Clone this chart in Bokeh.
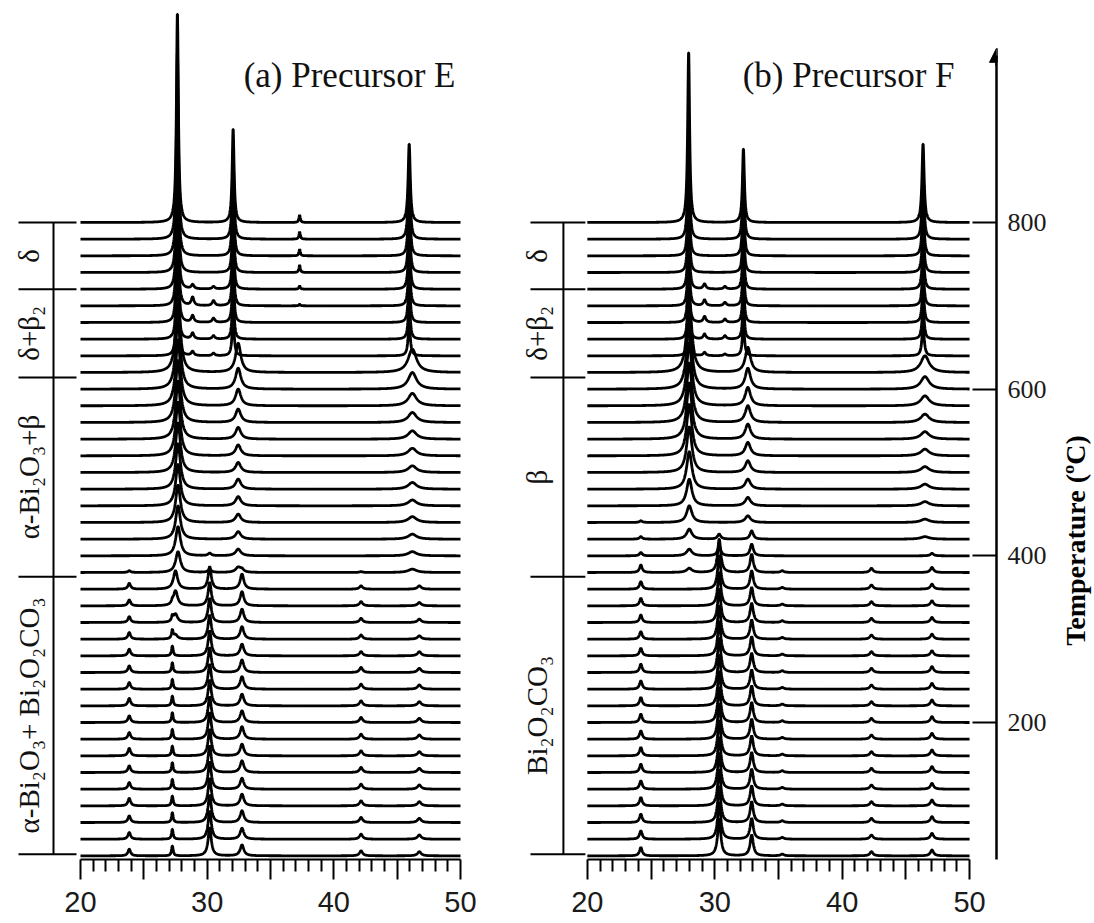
import math
import numpy as np
from bokeh.plotting import figure
from bokeh.layouts import row
from bokeh.models import FixedTicker, Label, Arrow, NormalHead
from bokeh.embed import file_html
from bokeh.resources import INLINE

# ---------------- data ----------------
TEMPS = [40, 60, 80, 100, 120, 140, 160, 180, 200, 220, 240, 260, 280, 300, 320,
         340, 360, 380, 400, 420, 440, 460, 480, 500, 520, 540, 560, 580, 600,
         620, 640, 660, 680, 700, 720, 740, 760, 780, 800]

X_MAJOR = [20, 25, 30, 35, 40, 45, 50]
X_BLANK = [25, 35, 45]
X_MINOR = [21, 22, 23, 24, 26, 27, 28, 29, 31, 32, 33, 34, 36, 37, 38, 39,
           41, 42, 43, 44, 46, 47, 48, 49]
Y_TICKS = [200, 400, 600, 800]
Y_LABEL = "Temperature (ºC)"

PHASE_BOUNDS = [42, 375, 614, 720, 800]
E_PHASES = ["α-Bi₂O₃+ Bi₂O₂CO₃", "α-Bi₂O₃+β", "δ+β₂", "δ"]
F_PHASES = ["Bi₂O₂CO₃", "β", "δ+β₂", "δ"]
TITLES = ["(a) Precursor E", "(b) Precursor F"]

# ---- Precursor E: peak heights (a.u.) per temperature ----
E_H_D276 = [0]*30 + [120, 130, 140, 150, 160, 180, 200, 225, 253]
E_H_D320 = [0]*30 + [50, 55, 60, 65, 70, 75, 85, 99, 113]
E_H_D460 = [0]*30 + [40, 45, 50, 55, 60, 65, 75, 85, 95]
E_H_D373 = [0]*33 + [2, 4, 9, 8, 9, 9]
E_H_B2_288 = [0]*30 + [5, 7, 8, 10, 5] + [0]*4
E_H_B2_305 = [0]*30 + [3, 4, 5, 6, 3] + [0]*4
E_H_B277 = [0]*17 + [25, 35, 40, 45, 50, 55, 60, 65, 70, 75, 80, 85, 90] + [0]*9
E_H_B324 = [0]*17 + [6, 8, 9, 10, 11, 12, 12, 13, 14, 16, 20, 25, 35] + [0]*9
E_H_B462 = [0]*17 + [4, 5, 6, 7, 7, 8, 8, 9, 10, 12, 15, 20, 28] + [0]*9
E_H_C302 = [34, 34, 33, 33, 33, 32, 32, 32, 31, 31, 30, 30, 30, 29, 29, 28, 27,
            4, 3] + [0]*20
E_H_C327 = [13, 13, 14, 14, 13, 14, 14, 15, 14, 14, 15, 15, 14, 15, 16, 17, 18,
            3] + [0]*21
E_H_C239 = [8, 8, 8, 9, 8, 8, 9, 8, 8, 9, 8, 8, 8, 8, 7, 7, 7, 2] + [0]*21
E_H_C422 = [6, 6, 6, 6, 6, 6, 6, 6, 6, 6, 6, 6, 5, 5, 5, 5, 4, 1] + [0]*21
E_H_C468 = [5, 5, 5, 5, 5, 5, 5, 5, 5, 5, 5, 5, 5, 4, 4, 4, 4] + [0]*22
E_H_A272 = [12, 12, 12, 12, 12, 12, 12, 12, 12, 12, 12, 12, 12, 10, 6, 3] + [0]*23
E_H_A275 = [0]*13 + [5, 10, 18, 22] + [0]*22

E_POS = [27.65, 32.05, 45.95, 37.3, 28.85, 30.5, 27.7, 32.45, 46.2,
         30.2, 32.75, 23.85, 42.15, 46.75, 27.25, 27.5]
E_FWHM = [0.18, 0.18, 0.2, 0.12, 0.25, 0.25, 0.45, 0.5, 0.8,
          0.3, 0.35, 0.25, 0.3, 0.35, 0.15, 0.4]
E_HEIGHTS = [E_H_D276, E_H_D320, E_H_D460, E_H_D373, E_H_B2_288, E_H_B2_305,
             E_H_B277, E_H_B324, E_H_B462, E_H_C302, E_H_C327, E_H_C239,
             E_H_C422, E_H_C468, E_H_A272, E_H_A275]

# ---- Precursor F ----
F_H_D279 = [0]*30 + [60, 65, 70, 75, 80, 85, 95, 125, 206]
F_H_D322 = [0]*30 + [42, 45, 48, 50, 55, 60, 70, 80, 89]
F_H_D463 = [0]*30 + [38, 40, 42, 45, 50, 55, 60, 73, 95]
F_H_B2_292 = [0]*30 + [4, 6, 7, 7, 6] + [0]*4
F_H_B2_308 = [0]*30 + [2, 4, 4, 4, 3] + [0]*4
F_H_B280 = [0]*17 + [5, 8, 12, 20, 32, 45, 55, 62, 68, 72, 76, 80, 85] + [0]*9
F_H_B326 = [0]*20 + [8, 10, 12, 14, 16, 18, 20, 22, 25, 30] + [0]*9
F_H_B465 = [0]*19 + [3, 4, 5, 6, 7, 8, 9, 10, 12, 15, 20] + [0]*9
F_H_C303 = [44, 44, 43, 43, 43, 42, 42, 42, 42, 41, 41, 41, 41, 40, 40, 40, 40,
            40, 12, 6] + [0]*19
F_H_C329 = [25, 25, 25, 24, 24, 24, 24, 24, 24, 24, 23, 23, 23, 23, 23, 22, 22,
            22, 14, 10] + [0]*19
F_H_C242 = [10, 10, 10, 10, 10, 10, 10, 10, 10, 10, 10, 10, 9, 9, 9, 9, 9, 9,
            4, 3, 2] + [0]*18
F_H_C423 = [5]*18 + [0]*21
F_H_C471 = [7, 7, 7, 7, 7, 7, 7, 7, 7, 7, 7, 7, 6, 6, 6, 6, 6, 6, 3] + [0]*20
F_H_C353 = [2]*18 + [0]*21

F_POS = [27.95, 32.25, 46.35, 29.2, 30.8, 28.0, 32.6, 46.5,
         30.35, 32.9, 24.2, 42.3, 47.05, 35.3]
F_FWHM = [0.18, 0.18, 0.2, 0.25, 0.25, 0.5, 0.5, 0.8,
          0.3, 0.3, 0.25, 0.3, 0.3, 0.3]
F_HEIGHTS = [F_H_D279, F_H_D322, F_H_D463, F_H_B2_292, F_H_B2_308, F_H_B280,
             F_H_B326, F_H_B465, F_H_C303, F_H_C329, F_H_C242, F_H_C423,
             F_H_C471, F_H_C353]

# ---------------- layout constants (pixels) ----------------
W_A, W_B, W_C, H = 520, 529, 45, 923
BOTTOM = 64
FRAME_H = H - BOTTOM
B_FRAME_W = 477
RIGHT_B = W_B - B_FRAME_W
PX_PER_DEG = 16.6667 / 20.0
Y_PIX_800 = 222
Y1 = 800 + Y_PIX_800 / PX_PER_DEG
Y0 = Y1 - FRAME_H / PX_PER_DEG

A_X20, A_X50 = 80.0, 460.0           # frame-local pixel of 20 and 50
B_X20, B_X50 = 67.0, 450.0


def px2x(px, x20, x50):
    return 20 + (px - x20) * 30.0 / (x50 - x20)


def py2t(py):
    return 800 - (py - Y_PIX_800) / PX_PER_DEG


TT = np.linspace(20, 50, 1501)


def traces(pos, fwhm, heights):
    xs, ys = [], []
    for i, t in enumerate(TEMPS):
        y = np.zeros_like(TT)
        for c, w, h in zip(pos, fwhm, heights):
            if h[i]:
                y += h[i] / (1.0 + ((TT - c) / (w / 2.0)) ** 2)
        xs.append(TT)
        ys.append(t + y)
    return xs, ys


SERIF = "Liberation Serif"


def make_panel(width, min_right, x20, x50, frame_w, pos, fwhm, heights,
               phases, ylocation, brk):
    x0 = px2x(0, x20, x50)
    x1 = px2x(frame_w, x20, x50)
    p = figure(width=width, height=H, x_range=(x0, x1), y_range=(Y0, Y1),
               output_backend="svg", toolbar_location=None,
               y_axis_location=ylocation, min_border_left=0,
               min_border_right=min_right, min_border_top=0,
               min_border_bottom=BOTTOM, outline_line_color=None)
    p.grid.visible = False
    xs, ys = traces(pos, fwhm, heights)
    p.multi_line(xs, ys, line_color="black", line_width=2.8)

    ax = p.xaxis[0]
    ax.ticker = FixedTicker(ticks=X_MAJOR, minor_ticks=X_MINOR)
    ax.major_label_overrides = {k: "" for k in X_BLANK}
    ax.bounds = (20, 50)
    ax.axis_line_width = 2
    ax.major_tick_line_width = 2
    ax.minor_tick_line_width = 2
    ax.major_tick_in = 0
    ax.major_tick_out = 20
    ax.minor_tick_in = 0
    ax.minor_tick_out = 12
    ax.major_label_text_font = "Liberation Sans"
    ax.major_label_text_font_size = "29px"
    ax.major_label_text_color = "#1a1a1a"
    ax.major_label_standoff = 12

    # phase brackets
    vx, h0, h1, lx = [px2x(v, x20, x50) for v in brk]
    p.segment(x0=[vx], y0=[PHASE_BOUNDS[0]], x1=[vx], y1=[PHASE_BOUNDS[-1]],
              line_color="black", line_width=2)
    p.segment(x0=[h0]*len(PHASE_BOUNDS), y0=PHASE_BOUNDS,
              x1=[h1]*len(PHASE_BOUNDS), y1=PHASE_BOUNDS,
              line_color="black", line_width=2)
    for k, name in enumerate(phases):
        yc = 0.5 * (PHASE_BOUNDS[k] + PHASE_BOUNDS[k + 1])
        p.add_layout(Label(x=lx, y=yc, text=name, angle=math.pi / 2,
                           text_align="center", text_baseline="middle",
                           text_font=SERIF, text_font_size="29px",
                           text_color="#111111"))
    return p


pa = make_panel(W_A, 0, A_X20, A_X50, W_A, E_POS, E_FWHM, E_HEIGHTS,
                E_PHASES, None, (53, 18, 76, 28))
pa.add_layout(Label(x=px2x(455, A_X20, A_X50), y=py2t(75), text=TITLES[0],
                    text_align="right", text_baseline="middle",
                    text_font=SERIF, text_font_size="35px",
                    text_color="#111111"))

pb = make_panel(W_B, RIGHT_B, B_X20, B_X50, B_FRAME_W, F_POS, F_FWHM,
                F_HEIGHTS, F_PHASES, "right", (43, 10, 65, 17))
pb.add_layout(Label(x=px2x(435, B_X20, B_X50), y=py2t(75), text=TITLES[1],
                    text_align="right", text_baseline="middle",
                    text_font=SERIF, text_font_size="35px",
                    text_color="#111111"))

ay = pb.yaxis[0]
ay.ticker = FixedTicker(ticks=Y_TICKS, minor_ticks=[])
ay.bounds = (Y0, 1000)
ay.axis_line_width = 2.5
ay.major_tick_line_width = 2
ay.major_tick_in = 24
ay.major_tick_out = 0
ay.minor_tick_in = 0
ay.minor_tick_out = 0
ay.major_label_text_font = SERIF
ay.major_label_text_font_size = "26px"
ay.major_label_text_color = "#1a1a1a"
ay.major_label_standoff = 11

XB_EDGE = px2x(B_FRAME_W, B_X20, B_X50)
pb.add_layout(Arrow(end=NormalHead(size=14, fill_color="black",
                                   line_color="black"),
                    x_start=XB_EDGE, y_start=988, x_end=XB_EDGE, y_end=1009,
                    line_width=2.5, line_color="black"))

# narrow strip carrying the temperature-axis title
pc = figure(width=W_C, height=H, x_range=(0, W_C), y_range=(Y0, Y1),
            output_backend="svg", toolbar_location=None,
            x_axis_location=None, y_axis_location=None,
            min_border_left=0, min_border_right=0, min_border_top=0,
            min_border_bottom=BOTTOM, outline_line_color=None)
pc.grid.visible = False
pc.add_layout(Label(x=26, y=py2t(540), text=Y_LABEL, angle=math.pi / 2,
                    text_align="center", text_baseline="middle",
                    text_font=SERIF, text_font_style="bold",
                    text_font_size="28px", text_color="black"))

layout = row(pa, pb, pc)
open("out.html", "w").write(file_html(layout, INLINE))
